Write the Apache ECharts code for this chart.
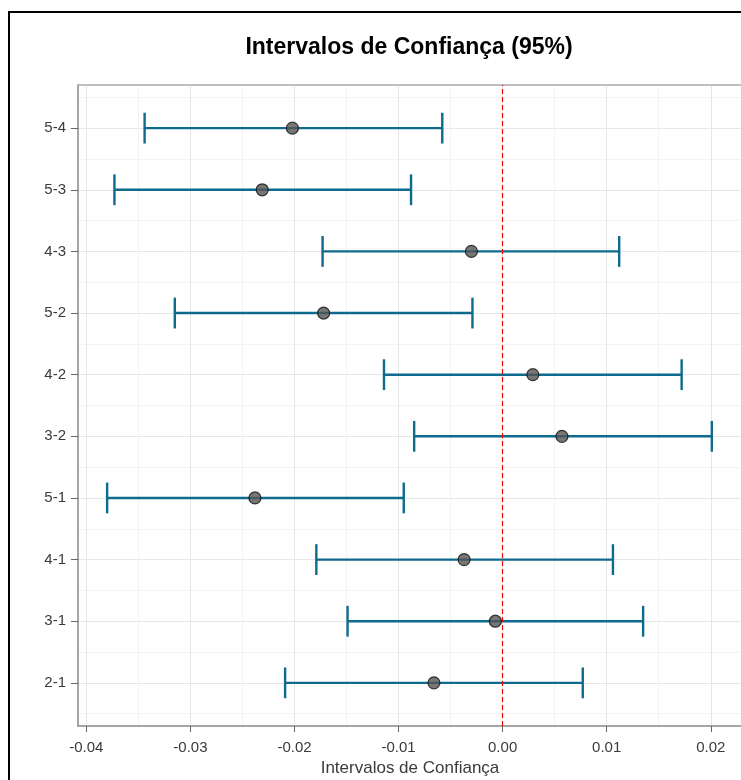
<!DOCTYPE html>
<html>
<head>
<meta charset="utf-8">
<title>Intervalos de Confiança (95%)</title>
<script src="https://cdn.jsdelivr.net/npm/echarts@6/dist/echarts.min.js"></script>
<style>
  html, body { margin: 0; padding: 0; background: #fff; }
  #ciChart { width: 741px; height: 780px; }
</style>
</head>
<body>
<div id="ciChart"></div>
<script>
// comparações, de baixo para cima
var comparisons = ['2-1', '3-1', '4-1', '5-1', '3-2', '4-2', '5-2', '4-3', '5-3', '5-4'];
var estimate = [-0.0066, -0.0007, -0.0037, -0.0238, 0.0057, 0.0029, -0.0172, -0.0030, -0.0231, -0.0202];
var lower    = [-0.0209, -0.0149, -0.0179, -0.0380, -0.0085, -0.0114, -0.0315, -0.0173, -0.0373, -0.0344];
var upper    = [ 0.0077,  0.0135,  0.0106, -0.0095,  0.0201,  0.0172, -0.0029,  0.0112, -0.0088, -0.0058];

// marcas dos eixos
var xTicks = [-0.04, -0.03, -0.02, -0.01, 0.00, 0.01, 0.02];
var xMinorTicks = [-0.035, -0.025, -0.015, -0.005, 0.005, 0.015];
var yTicks = [1, 2, 3, 4, 5, 6, 7, 8, 9, 10];
var yMinorTicks = [0.5, 1.5, 2.5, 3.5, 4.5, 5.5, 6.5, 7.5, 8.5, 9.5, 10.5];

var barColor = '#0f6b8d';
var fontFamily = '"Liberation Sans", Arial, sans-serif';

var barData = [];
var pointData = [];
for (var i = 0; i < comparisons.length; i++) {
  barData.push([i + 1, lower[i], upper[i]]);
  pointData.push([estimate[i], i + 1]);
}

var chart = echarts.init(document.getElementById('ciChart'));
chart.setOption({
  animation: false,
  backgroundColor: '#ffffff',
  graphic: [
    {
      type: 'rect',
      shape: { x: 9, y: 12, width: 800, height: 800 },
      style: { fill: 'none', stroke: '#000', lineWidth: 2 },
      silent: true
    },
    {
      type: 'text',
      x: 409,
      y: 48,
      style: {
        text: 'Intervalos de Confiança (95%)',
        font: 'bold 23px ' + fontFamily,
        fill: '#000',
        align: 'center',
        verticalAlign: 'middle',
        textAlign: 'center',
        textVerticalAlign: 'middle'
      },
      silent: true
    }
  ],
  grid: { left: 78, top: 85, width: 664, height: 641, outerBoundsMode: 'none', containLabel: false },
  xAxis: [
    {
      type: 'value',
      min: -0.0408,
      max: 0.023,
      name: 'Intervalos de Confiança',
      nameLocation: 'middle',
      nameGap: 32,
      nameTextStyle: { fontFamily: fontFamily, fontSize: 17, color: '#3a3a3a' },
      axisLine: { show: true, onZero: false, lineStyle: { color: '#888', width: 1.5 } },
      axisTick: { show: true, length: 6, customValues: xTicks, lineStyle: { color: '#666' } },
      axisLabel: {
        customValues: xTicks,
        margin: 14,
        fontFamily: fontFamily,
        fontSize: 15,
        color: '#3a3a3a',
        formatter: function (v) { return v.toFixed(2); }
      },
      splitLine: { show: true, lineStyle: { color: '#e6e6e6', width: 1 } }
    },
    {
      type: 'value',
      position: 'top',
      min: -0.0408,
      max: 0.023,
      axisLine: { show: true, onZero: false, lineStyle: { color: '#aaa', width: 1.5 } },
      axisTick: { show: false, customValues: xMinorTicks },
      axisLabel: { show: false },
      splitLine: { show: true, lineStyle: { color: '#f3f3f3', width: 1 } }
    }
  ],
  yAxis: [
    {
      type: 'value',
      position: 'left',
      min: 0.3,
      max: 10.7,
      axisLine: { show: true, onZero: false, lineStyle: { color: '#888', width: 1.5 } },
      axisTick: { show: true, length: 7, customValues: yTicks, lineStyle: { color: '#666' } },
      axisLabel: {
        customValues: yTicks,
        margin: 12,
        fontFamily: fontFamily,
        fontSize: 15,
        color: '#3a3a3a',
        formatter: function (v) { return comparisons[Math.round(v) - 1]; }
      },
      splitLine: { show: true, lineStyle: { color: '#e6e6e6', width: 1 } }
    },
    {
      type: 'value',
      position: 'right',
      min: 0.3,
      max: 10.7,
      axisLine: { show: false, onZero: false },
      axisTick: { show: false, customValues: yMinorTicks },
      axisLabel: { show: false },
      splitLine: { show: true, lineStyle: { color: '#f3f3f3', width: 1 } }
    }
  ],
  series: [
    {
      name: 'IC 95%',
      type: 'custom',
      xAxisIndex: 0,
      yAxisIndex: 0,
      encode: { x: [1, 2], y: 0 },
      data: barData,
      z: 3,
      renderItem: function (params, api) {
        var y = api.value(0);
        var p0 = api.coord([api.value(1), y]);
        var p1 = api.coord([api.value(2), y]);
        var half = api.size([0, 0.25])[1];
        var st = { stroke: barColor, lineWidth: 2.4 };
        return {
          type: 'group',
          children: [
            { type: 'line', shape: { x1: p0[0], y1: p0[1], x2: p1[0], y2: p1[1] }, style: st },
            { type: 'line', shape: { x1: p0[0], y1: p0[1] - half, x2: p0[0], y2: p0[1] + half }, style: st },
            { type: 'line', shape: { x1: p1[0], y1: p1[1] - half, x2: p1[0], y2: p1[1] + half }, style: st }
          ]
        };
      }
    },
    {
      name: 'Estimativa',
      type: 'scatter',
      xAxisIndex: 0,
      yAxisIndex: 0,
      data: pointData,
      symbol: 'circle',
      symbolSize: 12,
      z: 4,
      itemStyle: { color: '#555', borderColor: '#111', borderWidth: 1.2 },
      markLine: {
        silent: true,
        symbol: ['none', 'none'],
        label: { show: false },
        z: 5,
        lineStyle: { color: '#ff0000', type: [5, 3], width: 1.2 },
        data: [{ xAxis: 0 }]
      }
    }
  ]
});
</script>
</body>
</html>
